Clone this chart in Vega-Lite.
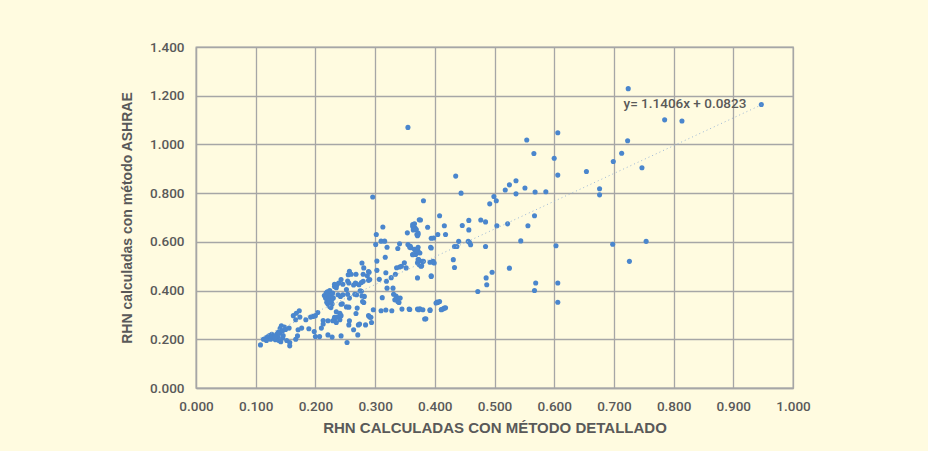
{
  "$schema": "https://vega.github.io/schema/vega-lite/v6.json",
  "width": 597,
  "height": 341,
  "autosize": {"type": "none"},
  "padding": {"left": 196, "top": 47, "right": 135, "bottom": 63},
  "background": "#FFFBE0",
  "config": {
    "view": {"stroke": "#A6A6A6", "strokeWidth": 1.3},
    "axis": {
      "domainColor": "#A6A6A6",
      "domainWidth": 1.3,
      "gridColor": "#A6A6A6",
      "gridWidth": 1.3,
      "gridOpacity": 1,
      "ticks": false,
      "tickSize": 0,
      "labelFlush": false,
      "labelOverlap": false,
      "labelColor": "#595959",
      "labelFont": "Roboto",
      "labelFontWeight": 500,
      "labelFontSize": 13.5,
      "titleColor": "#595959",
      "titleFont": "Liberation Sans",
      "titleFontWeight": "bold"
    }
  },
  "datasets": {
    "points": [
      {"x": 0.108, "y": 0.177}, {"x": 0.113, "y": 0.200}, {"x": 0.117, "y": 0.205}, {"x": 0.120, "y": 0.210},
      {"x": 0.123, "y": 0.215}, {"x": 0.125, "y": 0.200}, {"x": 0.128, "y": 0.212}, {"x": 0.130, "y": 0.205},
      {"x": 0.133, "y": 0.198}, {"x": 0.135, "y": 0.220}, {"x": 0.137, "y": 0.210}, {"x": 0.139, "y": 0.195},
      {"x": 0.140, "y": 0.225}, {"x": 0.141, "y": 0.245}, {"x": 0.143, "y": 0.255}, {"x": 0.145, "y": 0.235},
      {"x": 0.146, "y": 0.215}, {"x": 0.148, "y": 0.250}, {"x": 0.150, "y": 0.240}, {"x": 0.152, "y": 0.195},
      {"x": 0.145, "y": 0.205}, {"x": 0.138, "y": 0.230}, {"x": 0.142, "y": 0.190}, {"x": 0.118, "y": 0.195},
      {"x": 0.127, "y": 0.220}, {"x": 0.132, "y": 0.208},
      {"x": 0.156, "y": 0.246}, {"x": 0.163, "y": 0.297}, {"x": 0.168, "y": 0.307}, {"x": 0.173, "y": 0.317},
      {"x": 0.167, "y": 0.280}, {"x": 0.174, "y": 0.291}, {"x": 0.171, "y": 0.239}, {"x": 0.170, "y": 0.214},
      {"x": 0.157, "y": 0.187}, {"x": 0.157, "y": 0.173}, {"x": 0.167, "y": 0.200}, {"x": 0.177, "y": 0.246},
      {"x": 0.184, "y": 0.280}, {"x": 0.189, "y": 0.243}, {"x": 0.192, "y": 0.291}, {"x": 0.196, "y": 0.294},
      {"x": 0.200, "y": 0.297}, {"x": 0.204, "y": 0.310}, {"x": 0.198, "y": 0.232}, {"x": 0.200, "y": 0.211},
      {"x": 0.207, "y": 0.211}, {"x": 0.210, "y": 0.246}, {"x": 0.213, "y": 0.277},
      {"x": 0.215, "y": 0.380}, {"x": 0.217, "y": 0.370}, {"x": 0.218, "y": 0.390}, {"x": 0.220, "y": 0.360},
      {"x": 0.221, "y": 0.345}, {"x": 0.222, "y": 0.385}, {"x": 0.223, "y": 0.370}, {"x": 0.224, "y": 0.335},
      {"x": 0.225, "y": 0.350}, {"x": 0.226, "y": 0.380}, {"x": 0.227, "y": 0.360}, {"x": 0.228, "y": 0.345},
      {"x": 0.229, "y": 0.390}, {"x": 0.230, "y": 0.370}, {"x": 0.220, "y": 0.395}, {"x": 0.224, "y": 0.400},
      {"x": 0.226, "y": 0.330}, {"x": 0.219, "y": 0.352}, {"x": 0.223, "y": 0.357},
      {"x": 0.221, "y": 0.218}, {"x": 0.228, "y": 0.209}, {"x": 0.232, "y": 0.283}, {"x": 0.235, "y": 0.269},
      {"x": 0.237, "y": 0.291}, {"x": 0.241, "y": 0.280}, {"x": 0.243, "y": 0.214}, {"x": 0.241, "y": 0.307},
      {"x": 0.232, "y": 0.417}, {"x": 0.236, "y": 0.424}, {"x": 0.239, "y": 0.431}, {"x": 0.243, "y": 0.445},
      {"x": 0.238, "y": 0.383}, {"x": 0.242, "y": 0.376}, {"x": 0.245, "y": 0.346}, {"x": 0.246, "y": 0.383},
      {"x": 0.252, "y": 0.404}, {"x": 0.253, "y": 0.187}, {"x": 0.256, "y": 0.259}, {"x": 0.256, "y": 0.332},
      {"x": 0.257, "y": 0.369}, {"x": 0.256, "y": 0.431}, {"x": 0.255, "y": 0.465}, {"x": 0.257, "y": 0.479},
      {"x": 0.264, "y": 0.239}, {"x": 0.267, "y": 0.431}, {"x": 0.269, "y": 0.383}, {"x": 0.270, "y": 0.328},
      {"x": 0.272, "y": 0.259}, {"x": 0.271, "y": 0.218}, {"x": 0.273, "y": 0.424}, {"x": 0.277, "y": 0.397},
      {"x": 0.280, "y": 0.438}, {"x": 0.278, "y": 0.513}, {"x": 0.281, "y": 0.493}, {"x": 0.282, "y": 0.376},
      {"x": 0.281, "y": 0.351}, {"x": 0.284, "y": 0.259}, {"x": 0.287, "y": 0.461}, {"x": 0.290, "y": 0.475},
      {"x": 0.291, "y": 0.445}, {"x": 0.291, "y": 0.291}, {"x": 0.294, "y": 0.269}, {"x": 0.297, "y": 0.321},
      {"x": 0.296, "y": 0.784}, {"x": 0.313, "y": 0.661}, {"x": 0.302, "y": 0.630}, {"x": 0.310, "y": 0.603},
      {"x": 0.301, "y": 0.589}, {"x": 0.320, "y": 0.578}, {"x": 0.341, "y": 0.592}, {"x": 0.338, "y": 0.573},
      {"x": 0.354, "y": 0.637}, {"x": 0.363, "y": 0.671}, {"x": 0.367, "y": 0.657}, {"x": 0.370, "y": 0.630},
      {"x": 0.355, "y": 0.589}, {"x": 0.360, "y": 0.576}, {"x": 0.371, "y": 0.569}, {"x": 0.368, "y": 0.548},
      {"x": 0.317, "y": 0.537}, {"x": 0.303, "y": 0.521}, {"x": 0.341, "y": 0.497}, {"x": 0.349, "y": 0.514},
      {"x": 0.336, "y": 0.494}, {"x": 0.371, "y": 0.514}, {"x": 0.303, "y": 0.483}, {"x": 0.318, "y": 0.473},
      {"x": 0.307, "y": 0.446}, {"x": 0.327, "y": 0.453}, {"x": 0.334, "y": 0.467}, {"x": 0.320, "y": 0.410},
      {"x": 0.312, "y": 0.371}, {"x": 0.335, "y": 0.378}, {"x": 0.338, "y": 0.369}, {"x": 0.331, "y": 0.385},
      {"x": 0.340, "y": 0.351}, {"x": 0.318, "y": 0.320}, {"x": 0.310, "y": 0.317}, {"x": 0.328, "y": 0.317},
      {"x": 0.345, "y": 0.324}, {"x": 0.357, "y": 0.324}, {"x": 0.371, "y": 0.324}, {"x": 0.289, "y": 0.297},
      {"x": 0.289, "y": 0.478}, {"x": 0.280, "y": 0.467}, {"x": 0.268, "y": 0.467}, {"x": 0.260, "y": 0.467},
      {"x": 0.254, "y": 0.439}, {"x": 0.268, "y": 0.429}, {"x": 0.277, "y": 0.433}, {"x": 0.289, "y": 0.442},
      {"x": 0.264, "y": 0.423}, {"x": 0.246, "y": 0.426}, {"x": 0.232, "y": 0.426}, {"x": 0.235, "y": 0.412},
      {"x": 0.254, "y": 0.385}, {"x": 0.266, "y": 0.385}, {"x": 0.278, "y": 0.378}, {"x": 0.275, "y": 0.399},
      {"x": 0.279, "y": 0.355}, {"x": 0.243, "y": 0.344}, {"x": 0.252, "y": 0.333}, {"x": 0.268, "y": 0.306},
      {"x": 0.257, "y": 0.276}, {"x": 0.243, "y": 0.297}, {"x": 0.232, "y": 0.290}, {"x": 0.229, "y": 0.276},
      {"x": 0.221, "y": 0.276}, {"x": 0.213, "y": 0.263}, {"x": 0.235, "y": 0.313}, {"x": 0.274, "y": 0.263},
      {"x": 0.293, "y": 0.290}, {"x": 0.374, "y": 0.691},
      {"x": 0.316, "y": 0.603}, {"x": 0.319, "y": 0.438}, {"x": 0.330, "y": 0.410}, {"x": 0.333, "y": 0.362},
      {"x": 0.338, "y": 0.355}, {"x": 0.342, "y": 0.369}, {"x": 0.344, "y": 0.500}, {"x": 0.352, "y": 0.493},
      {"x": 0.359, "y": 0.582}, {"x": 0.363, "y": 0.548}, {"x": 0.366, "y": 0.569}, {"x": 0.369, "y": 0.651},
      {"x": 0.371, "y": 0.452}, {"x": 0.372, "y": 0.561}, {"x": 0.372, "y": 0.630}, {"x": 0.373, "y": 0.527},
      {"x": 0.373, "y": 0.321}, {"x": 0.375, "y": 0.513}, {"x": 0.375, "y": 0.325}, {"x": 0.377, "y": 0.500},
      {"x": 0.379, "y": 0.520}, {"x": 0.380, "y": 0.321}, {"x": 0.383, "y": 0.283}, {"x": 0.392, "y": 0.321},
      {"x": 0.394, "y": 0.575}, {"x": 0.394, "y": 0.458}, {"x": 0.397, "y": 0.520}, {"x": 0.398, "y": 0.616},
      {"x": 0.399, "y": 0.513}, {"x": 0.405, "y": 0.630}, {"x": 0.408, "y": 0.355}, {"x": 0.405, "y": 0.351},
      {"x": 0.411, "y": 0.321}, {"x": 0.416, "y": 0.328}, {"x": 0.418, "y": 0.630},
      {"x": 0.554, "y": 1.018}, {"x": 0.566, "y": 0.963}, {"x": 0.600, "y": 0.943}, {"x": 0.606, "y": 1.048},
      {"x": 0.435, "y": 0.870}, {"x": 0.444, "y": 0.800}, {"x": 0.606, "y": 0.874}, {"x": 0.536, "y": 0.851},
      {"x": 0.525, "y": 0.834}, {"x": 0.518, "y": 0.813}, {"x": 0.536, "y": 0.797}, {"x": 0.551, "y": 0.821},
      {"x": 0.568, "y": 0.805}, {"x": 0.586, "y": 0.806}, {"x": 0.381, "y": 0.769}, {"x": 0.499, "y": 0.786},
      {"x": 0.503, "y": 0.769}, {"x": 0.492, "y": 0.756}, {"x": 0.567, "y": 0.707}, {"x": 0.504, "y": 0.666},
      {"x": 0.522, "y": 0.674}, {"x": 0.556, "y": 0.666}, {"x": 0.408, "y": 0.707}, {"x": 0.416, "y": 0.666},
      {"x": 0.446, "y": 0.667}, {"x": 0.457, "y": 0.688}, {"x": 0.457, "y": 0.649}, {"x": 0.477, "y": 0.690},
      {"x": 0.485, "y": 0.682}, {"x": 0.376, "y": 0.690}, {"x": 0.366, "y": 0.674}, {"x": 0.363, "y": 0.663},
      {"x": 0.364, "y": 0.649}, {"x": 0.372, "y": 0.636}, {"x": 0.371, "y": 0.625}, {"x": 0.388, "y": 0.660},
      {"x": 0.394, "y": 0.615}, {"x": 0.440, "y": 0.602}, {"x": 0.433, "y": 0.581}, {"x": 0.437, "y": 0.581},
      {"x": 0.456, "y": 0.602}, {"x": 0.458, "y": 0.598}, {"x": 0.460, "y": 0.588}, {"x": 0.485, "y": 0.581},
      {"x": 0.544, "y": 0.604}, {"x": 0.603, "y": 0.584}, {"x": 0.393, "y": 0.578}, {"x": 0.358, "y": 0.578},
      {"x": 0.372, "y": 0.578}, {"x": 0.369, "y": 0.561}, {"x": 0.363, "y": 0.547}, {"x": 0.375, "y": 0.554},
      {"x": 0.372, "y": 0.527}, {"x": 0.381, "y": 0.520}, {"x": 0.378, "y": 0.502}, {"x": 0.374, "y": 0.506},
      {"x": 0.392, "y": 0.516}, {"x": 0.397, "y": 0.517}, {"x": 0.394, "y": 0.461}, {"x": 0.431, "y": 0.527},
      {"x": 0.433, "y": 0.495}, {"x": 0.525, "y": 0.492}, {"x": 0.496, "y": 0.475}, {"x": 0.486, "y": 0.452},
      {"x": 0.487, "y": 0.424}, {"x": 0.472, "y": 0.396}, {"x": 0.569, "y": 0.431}, {"x": 0.567, "y": 0.400},
      {"x": 0.606, "y": 0.431}, {"x": 0.606, "y": 0.352}, {"x": 0.404, "y": 0.353}, {"x": 0.402, "y": 0.349},
      {"x": 0.414, "y": 0.325}, {"x": 0.418, "y": 0.329}, {"x": 0.411, "y": 0.322}, {"x": 0.392, "y": 0.318},
      {"x": 0.358, "y": 0.322}, {"x": 0.385, "y": 0.284},
      {"x": 0.724, "y": 1.229}, {"x": 0.947, "y": 1.164}, {"x": 0.785, "y": 1.101}, {"x": 0.814, "y": 1.096},
      {"x": 0.723, "y": 1.015}, {"x": 0.713, "y": 0.964}, {"x": 0.699, "y": 0.930}, {"x": 0.654, "y": 0.889},
      {"x": 0.747, "y": 0.904}, {"x": 0.676, "y": 0.818}, {"x": 0.676, "y": 0.793}, {"x": 0.698, "y": 0.590},
      {"x": 0.754, "y": 0.602}, {"x": 0.726, "y": 0.520}, {"x": 0.355, "y": 1.070}
    ],
    "trend": [
      {"x": 0.108, "y": 0.2055},
      {"x": 0.947, "y": 1.1625}
    ],
    "note": [
      {"x": 0.819, "y": 1.166, "text": "y= 1.1406x + 0.0823"}
    ]
  },
  "layer": [
    {
      "data": {"name": "points"},
      "mark": {"type": "circle", "size": 26, "color": "#4A86CD", "opacity": 1},
      "encoding": {
        "x": {
          "field": "x", "type": "quantitative",
          "scale": {"domain": [0, 1], "nice": false, "zero": false},
          "axis": {
            "values": [0, 0.1, 0.2, 0.3, 0.4, 0.5, 0.6, 0.7, 0.8, 0.9, 1.0],
            "format": ".3f",
            "labelPadding": 11,
            "title": "RHN CALCULADAS CON MÉTODO DETALLADO",
            "titleFontSize": 15,
            "titlePadding": 8
          }
        },
        "y": {
          "field": "y", "type": "quantitative",
          "scale": {"domain": [0, 1.4], "nice": false, "zero": false},
          "axis": {
            "values": [0, 0.2, 0.4, 0.6, 0.8, 1.0, 1.2, 1.4],
            "format": ".3f",
            "labelPadding": 12,
            "title": "RHN calculadas con método ASHRAE",
            "titleFontSize": 14,
            "titlePadding": 15
          }
        }
      }
    },
    {
      "data": {"name": "trend"},
      "mark": {"type": "line", "color": "#9BB7D6", "strokeWidth": 1, "strokeDash": [1, 3]},
      "encoding": {
        "x": {"field": "x", "type": "quantitative"},
        "y": {"field": "y", "type": "quantitative"}
      }
    },
    {
      "data": {"name": "note"},
      "mark": {"type": "text", "font": "Roboto", "fontWeight": 500, "fontSize": 13.5, "color": "#595959", "align": "center", "baseline": "middle"},
      "encoding": {
        "x": {"field": "x", "type": "quantitative"},
        "y": {"field": "y", "type": "quantitative"},
        "text": {"field": "text"}
      }
    }
  ]
}
